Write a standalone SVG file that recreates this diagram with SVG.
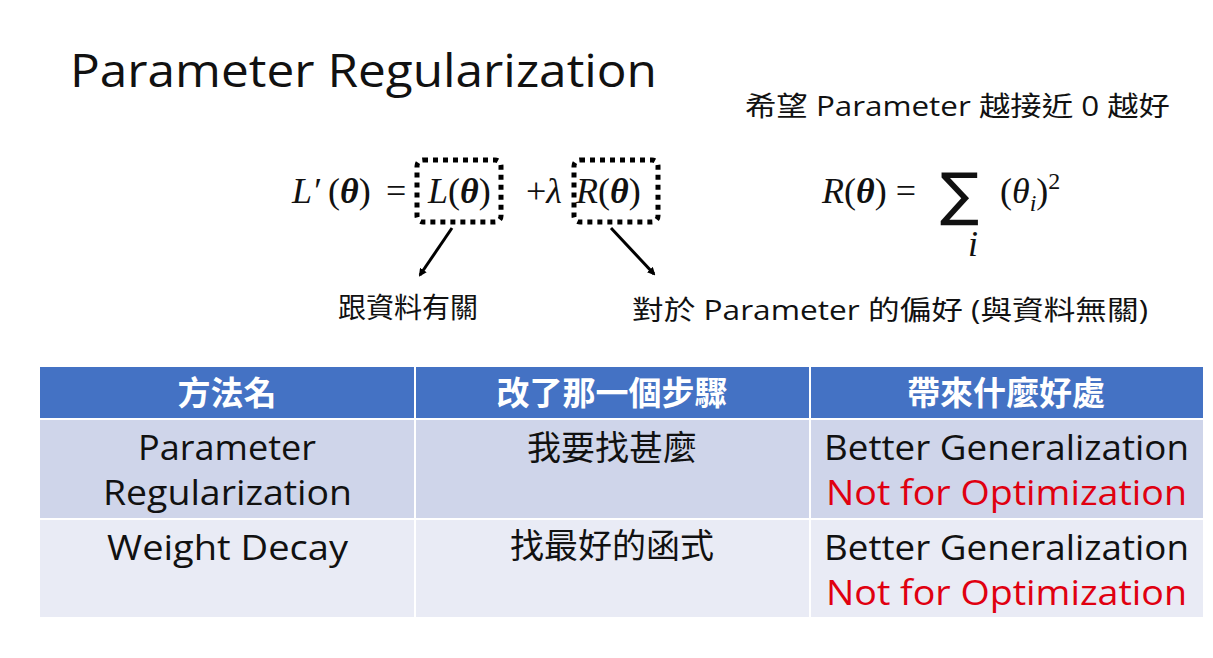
<svg xmlns="http://www.w3.org/2000/svg" width="1213" height="658" viewBox="0 0 1213 658">
<defs>
<style>
.s{font-family:"Open Sans","Noto Sans CJK TC",sans-serif;fill:#111}
.m{font-family:"Liberation Serif","DejaVu Serif",serif;font-size:36px;fill:#111}
.cj{font-family:"Noto Sans CJK TC",sans-serif;fill:#111}
.h{font-family:"Noto Sans CJK TC",sans-serif;font-size:33px;font-weight:bold;fill:#fff}
.c{font-size:34px}
.red{fill:#e00010}
.box{fill:none;stroke:#000;stroke-width:5;stroke-dasharray:5 5}
.ar{stroke:#000;stroke-width:3;marker-end:url(#a)}
</style>
<marker id="a" markerWidth="8" markerHeight="8" refX="6" refY="4" orient="auto" markerUnits="userSpaceOnUse" viewBox="0 0 8 8"><path d="M0,0L8,4L0,8z" fill="#000"/></marker>
</defs>
<rect width="1213" height="658" fill="#fff"/>
<text class="s" x="70" y="87" font-size="46" textLength="587" lengthAdjust="spacingAndGlyphs">Parameter Regularization</text>
<text class="s" x="745" y="116" font-size="27" textLength="425" lengthAdjust="spacingAndGlyphs">希望 Parameter 越接近 0 越好</text>
<g id="formula">
<text class="m" x="292" y="203" font-style="italic">L′</text>
<text class="m" x="328" y="203">(<tspan font-weight="bold" font-style="italic">θ</tspan>)</text>
<text class="m" x="386" y="203">=</text>
<text class="m" x="428" y="203"><tspan font-style="italic">L</tspan>(<tspan font-weight="bold" font-style="italic">θ</tspan>)</text>
<text class="m" x="526" y="203">+<tspan font-style="italic">λ</tspan></text>
<text class="m" x="576" y="203"><tspan font-style="italic">R</tspan>(<tspan font-weight="bold" font-style="italic">θ</tspan>)</text>
</g>
<g id="boxL"><rect class="box" x="417" y="160" width="84" height="62" rx="6"/></g>
<g id="boxR"><rect class="box" x="574" y="160" width="84" height="62" rx="6"/></g>
<g id="Rdef">
<text class="m" x="822" y="203"><tspan font-style="italic">R</tspan>(<tspan font-weight="bold" font-style="italic">θ</tspan>) =</text>
<text x="940" y="214" font-family="DejaVu Sans,sans-serif" font-size="58" fill="#111">∑</text>
<text class="m" x="968" y="256" font-size="24" font-style="italic">i</text>
<text class="m" x="1000" y="203">(<tspan font-style="italic">θ</tspan><tspan font-size="24" dy="8" font-style="italic">i</tspan><tspan dy="-8">)</tspan><tspan font-size="24" dy="-14">2</tspan></text>
</g>
<g id="connectors">
<line class="ar" x1="452" y1="228" x2="420" y2="275"/>
<line class="ar" x1="611" y1="228" x2="654" y2="274"/>
</g>
<text class="cj" x="338" y="318" font-size="28">跟資料有關</text>
<text class="s" x="632" y="320" font-size="27" textLength="516" lengthAdjust="spacingAndGlyphs">對於 Parameter 的偏好 (與資料無關)</text>
<g id="table">
<rect x="40" y="367" width="1163" height="51" fill="#4472c4"/>
<rect x="40" y="420" width="1163" height="98" fill="#cfd5ea"/>
<rect x="40" y="520" width="1163" height="97" fill="#e9ebf5"/>
<line x1="415" y1="367" x2="415" y2="617" stroke="#fff" stroke-width="2"/>
<line x1="810" y1="367" x2="810" y2="617" stroke="#fff" stroke-width="2"/>
<text class="h" x="227" y="405" text-anchor="middle">方法名</text>
<text class="h" x="612" y="405" text-anchor="middle">改了那一個步驟</text>
<text class="h" x="1006" y="405" text-anchor="middle">帶來什麼好處</text>
<text class="s c" x="138" y="460" textLength="178" lengthAdjust="spacingAndGlyphs">Parameter</text>
<text class="s c" x="103" y="505" textLength="249" lengthAdjust="spacingAndGlyphs">Regularization</text>
<text class="cj" x="612" y="460" font-size="34" text-anchor="middle">我要找甚麼</text>
<text class="s c" x="824" y="460" textLength="365" lengthAdjust="spacingAndGlyphs">Better Generalization</text>
<text class="s c red" x="826" y="505" textLength="361" lengthAdjust="spacingAndGlyphs">Not for Optimization</text>
<text class="s c" x="107" y="560" textLength="241" lengthAdjust="spacingAndGlyphs">Weight Decay</text>
<text class="cj" x="612" y="558" font-size="34" text-anchor="middle">找最好的函式</text>
<text class="s c" x="824" y="560" textLength="365" lengthAdjust="spacingAndGlyphs">Better Generalization</text>
<text class="s c red" x="826" y="605" textLength="361" lengthAdjust="spacingAndGlyphs">Not for Optimization</text>
</g>
</svg>
